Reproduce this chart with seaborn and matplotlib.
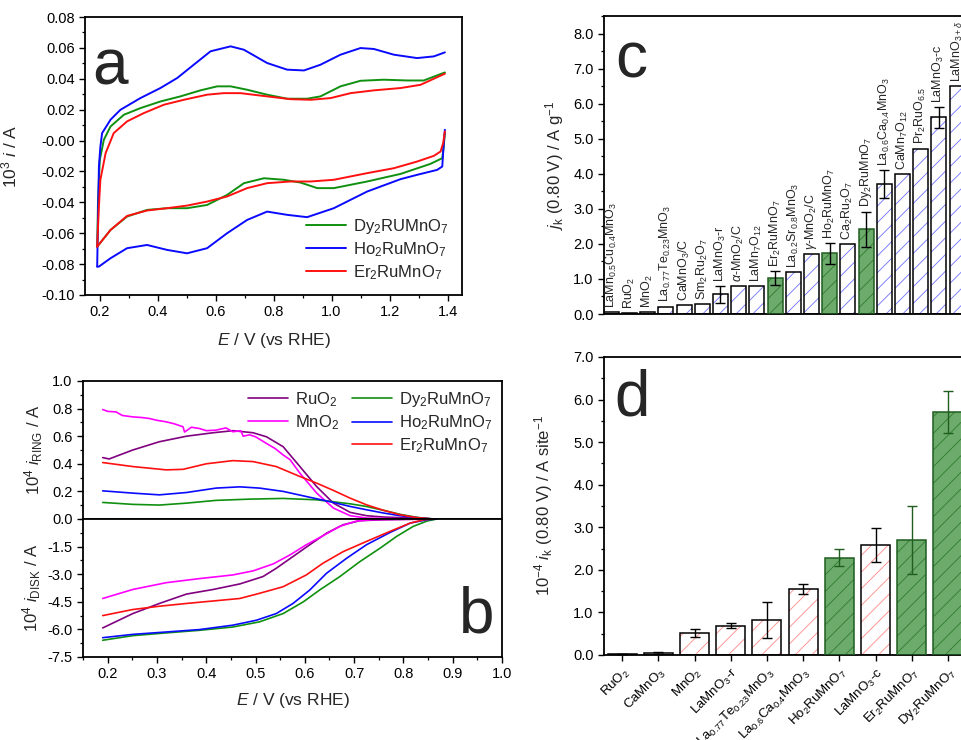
import numpy as np
import pandas as pd
import matplotlib
matplotlib.use("Agg")
import matplotlib.pyplot as plt
from matplotlib.patches import Rectangle
from matplotlib.ticker import MultipleLocator, FormatStrFormatter
import seaborn as sns

# ---------------- panel a: CV curves (E / V, 10^3 i / A) ----------------
ho_up_E = [0.192, 0.198, 0.203, 0.209, 0.238, 0.272, 0.341, 0.410, 0.468, 0.525, 0.583, 0.652, 0.698,
           0.778, 0.847, 0.905, 0.962, 1.031, 1.100, 1.146, 1.215, 1.295, 1.353, 1.391]
ho_up_i = [-0.0816, -0.0168, -0.004, 0.0048, 0.0135, 0.0199, 0.0275, 0.034, 0.0405, 0.0491, 0.0578, 0.061,
           0.0588, 0.0502, 0.0459, 0.0454, 0.0491, 0.0556, 0.0599, 0.0593, 0.0556, 0.0534, 0.0545, 0.0571]
ho_dn_E = [1.391, 1.387, 1.382, 1.364, 1.295, 1.238, 1.123, 1.008, 0.916, 0.847, 0.778, 0.709, 0.640,
           0.571, 0.502, 0.433, 0.364, 0.295, 0.238, 0.198, 0.192]
ho_dn_i = [0.0070, -0.0017, -0.0168, -0.019, -0.0222, -0.025, -0.033, -0.0438, -0.0496, -0.0481, -0.046,
           -0.0514, -0.060, -0.0697, -0.073, -0.0708, -0.0676, -0.0697, -0.0762, -0.0816, -0.0816]

dy_up_E = [0.192, 0.195, 0.201, 0.215, 0.238, 0.284, 0.341, 0.410, 0.479, 0.548, 0.606, 0.652, 0.709,
           0.778, 0.847, 0.916, 0.962, 1.031, 1.100, 1.180, 1.261, 1.318, 1.391]
dy_up_i = [-0.0687, -0.0384, -0.0125, 0.0005, 0.0091, 0.0167, 0.021, 0.0253, 0.0286, 0.0325, 0.0351,
           0.0351, 0.0329, 0.0297, 0.0271, 0.0271, 0.0286, 0.0351, 0.0387, 0.0394, 0.0389, 0.0389, 0.0441]
dy_dn_E = [1.391, 1.387, 1.382, 1.341, 1.238, 1.123, 1.008, 0.951, 0.893, 0.836, 0.767, 0.698, 0.640,
           0.571, 0.502, 0.433, 0.364, 0.295, 0.238, 0.192]
dy_dn_i = [0.0048, -0.0038, -0.0114, -0.0151, -0.0216, -0.0265, -0.0308, -0.0308, -0.0272, -0.0254,
           -0.0244, -0.0276, -0.0352, -0.0417, -0.0438, -0.0438, -0.0449, -0.0492, -0.0579, -0.0687]

er_up_E = [0.192, 0.198, 0.203, 0.221, 0.249, 0.295, 0.353, 0.422, 0.491, 0.571, 0.629, 0.686, 0.778,
           0.859, 0.928, 0.997, 1.066, 1.146, 1.238, 1.307, 1.391]
er_up_i = [-0.0687, -0.0427, -0.0254, -0.0082, 0.0048, 0.0124, 0.0178, 0.0232, 0.0264, 0.0297, 0.0307,
           0.0307, 0.0286, 0.0268, 0.0264, 0.0275, 0.0307, 0.0325, 0.034, 0.0361, 0.0433]
er_dn_E = [1.391, 1.385, 1.376, 1.353, 1.295, 1.215, 1.123, 1.008, 0.928, 0.859, 0.778, 0.709, 0.640,
           0.571, 0.502, 0.433, 0.364, 0.295, 0.238, 0.192]
er_dn_i = [0.0059, -0.0017, -0.0071, -0.0099, -0.0136, -0.0179, -0.0211, -0.0254, -0.0265, -0.0265,
           -0.0276, -0.0308, -0.0362, -0.0395, -0.0421, -0.0438, -0.0453, -0.0488, -0.0579, -0.0687]

# ---------------- panel b: RRDE ring / disk (10^4 i / A) ----------------
ru_ring_E = [0.19, 0.203, 0.251, 0.305, 0.36, 0.414, 0.454, 0.495, 0.522, 0.556, 0.59, 0.624, 0.658,
             0.692, 0.725, 0.76, 0.793, 0.827, 0.861]
ru_ring = [0.445, 0.435, 0.50, 0.56, 0.60, 0.625, 0.64, 0.625, 0.596, 0.524, 0.38, 0.235, 0.115,
           0.048, 0.024, 0.014, 0.01, 0.005, 0.0]
mn_ring_E = [0.19, 0.20, 0.217, 0.23, 0.251, 0.27, 0.285, 0.30, 0.319, 0.335, 0.353, 0.356, 0.37, 0.386,
             0.40, 0.42, 0.44, 0.454, 0.47, 0.475, 0.488, 0.50, 0.522, 0.54, 0.556, 0.57, 0.59, 0.624,
             0.658, 0.692, 0.725, 0.79, 0.86]
mn_ring = [0.793, 0.78, 0.776, 0.75, 0.74, 0.735, 0.728, 0.715, 0.704, 0.69, 0.668, 0.63, 0.665, 0.656,
           0.64, 0.644, 0.66, 0.632, 0.64, 0.60, 0.61, 0.596, 0.548, 0.51, 0.464, 0.43, 0.332, 0.188,
           0.079, 0.024, 0.007, 0.002, 0.0]
er_ring_E = [0.19, 0.251, 0.319, 0.353, 0.40, 0.454, 0.495, 0.542, 0.59, 0.624, 0.658, 0.692, 0.725,
             0.76, 0.793, 0.827, 0.861]
er_ring = [0.409, 0.38, 0.356, 0.36, 0.40, 0.423, 0.416, 0.38, 0.308, 0.26, 0.207, 0.151, 0.103,
           0.0625, 0.031, 0.01, 0.0]
ho_ring_E = [0.19, 0.251, 0.305, 0.36, 0.42, 0.468, 0.508, 0.556, 0.603, 0.658, 0.692, 0.725, 0.76,
             0.793, 0.827, 0.861]
ho_ring = [0.204, 0.1875, 0.175, 0.192, 0.224, 0.233, 0.224, 0.20, 0.163, 0.12, 0.091, 0.067, 0.043,
           0.024, 0.01, 0.0]
dy_ring_E = [0.19, 0.251, 0.305, 0.36, 0.42, 0.488, 0.556, 0.624, 0.692, 0.725, 0.76, 0.793, 0.827, 0.861]
dy_ring = [0.12, 0.106, 0.101, 0.115, 0.135, 0.144, 0.149, 0.139, 0.11, 0.091, 0.0625, 0.034, 0.012, 0.0]

mn_disk_E = [0.19, 0.251, 0.319, 0.386, 0.454, 0.495, 0.536, 0.57, 0.603, 0.637, 0.671, 0.705, 0.739,
             0.793, 0.86]
mn_disk = [-4.32, -3.83, -3.46, -3.24, -3.04, -2.82, -2.44, -1.95, -1.40, -0.91, -0.40, -0.11, -0.04,
           -0.02, 0.0]
ru_disk_E = [0.19, 0.251, 0.305, 0.36, 0.414, 0.468, 0.515, 0.542, 0.576, 0.61, 0.644, 0.678, 0.712,
             0.76, 0.86]
ru_disk = [-5.92, -5.14, -4.59, -4.08, -3.83, -3.53, -3.13, -2.68, -2.04, -1.40, -0.77, -0.31, -0.09,
           -0.04, 0.0]
er_disk_E = [0.19, 0.251, 0.305, 0.36, 0.42, 0.468, 0.508, 0.556, 0.603, 0.637, 0.678, 0.725, 0.773,
             0.814, 0.841, 0.861]
er_disk = [-5.25, -4.92, -4.74, -4.59, -4.44, -4.32, -4.04, -3.68, -3.04, -2.40, -1.77, -1.22, -0.67,
           -0.22, -0.04, 0.0]
ho_disk_E = [0.19, 0.251, 0.319, 0.386, 0.454, 0.502, 0.542, 0.576, 0.61, 0.644, 0.685, 0.725, 0.773,
             0.814, 0.848, 0.868]
ho_disk = [-6.45, -6.27, -6.14, -6.01, -5.77, -5.50, -5.14, -4.59, -3.86, -2.95, -2.13, -1.40, -0.73,
           -0.22, -0.04, 0.0]
dy_disk_E = [0.19, 0.251, 0.319, 0.386, 0.454, 0.508, 0.556, 0.597, 0.63, 0.671, 0.712, 0.753, 0.786,
             0.82, 0.848, 0.868]
dy_disk = [-6.59, -6.34, -6.19, -6.05, -5.87, -5.59, -5.14, -4.50, -3.86, -3.13, -2.31, -1.58, -0.95,
           -0.40, -0.11, 0.0]

# ---------------- panel c: mass activity ----------------
c_names = [r"LaMn$_{0.5}$Cu$_{0.4}$MnO$_3$", r"RuO$_2$", r"MnO$_2$", r"La$_{0.77}$Te$_{0.23}$MnO$_3$",
           r"CaMnO$_3$/C", r"Sm$_2$Ru$_2$O$_7$", r"LaMnO$_3$-r", r"$\alpha$-MnO$_2$/C", r"LaMn$_7$O$_{12}$",
           r"Er$_2$RuMnO$_7$", r"La$_{0.2}$Sr$_{0.8}$MnO$_3$", r"$\gamma$-MnO$_2$/C", r"Ho$_2$RuMnO$_7$",
           r"Ca$_2$Ru$_2$O$_7$", r"Dy$_2$RuMnO$_7$", r"La$_{0.6}$Ca$_{0.4}$MnO$_3$", r"CaMn$_7$O$_{12}$",
           r"Pr$_2$RuO$_{6.5}$", r"LaMnO$_3$-c", r"LaMnO$_{3+\delta}$"]
c_vals = [0.05, 0.03, 0.05, 0.21, 0.26, 0.29, 0.56, 0.80, 0.80, 1.02, 1.19, 1.70, 1.73, 2.00, 2.42,
          3.70, 4.00, 4.72, 5.61, 6.50]
c_err = [0, 0, 0, 0, 0, 0, 0.24, 0, 0, 0.20, 0, 0, 0.30, 0, 0.50, 0.40, 0, 0, 0.30, 0]
c_ours = [False] * 9 + [True] + [False] * 2 + [True] + [False] + [True] + [False] * 5

# ---------------- panel d: specific activity ----------------
d_names = [r"RuO$_2$", r"CaMnO$_3$", r"MnO$_2$", r"LaMnO$_3$-r", r"La$_{0.77}$Te$_{0.23}$MnO$_3$",
           r"La$_{0.6}$Ca$_{0.4}$MnO$_3$", r"Ho$_2$RuMnO$_7$", r"LaMnO$_3$-c", r"Er$_2$RuMnO$_7$",
           r"Dy$_2$RuMnO$_7$"]
d_vals = [0.03, 0.05, 0.52, 0.69, 0.83, 1.55, 2.29, 2.59, 2.70, 5.71]
d_err = [0, 0.02, 0.10, 0.05, 0.42, 0.12, 0.20, 0.40, 0.80, 0.50]
d_ours = [False] * 6 + [True, False, True, True]

GREEN = "#62b562"
GREEN_H = "#2e7a2e"
GREEN_E = "#1f5e1f"

sns.set_style("ticks")
plt.rcParams["font.family"] = ["Liberation Sans", "DejaVu Sans"]
plt.rcParams["mathtext.fontset"] = "custom"
plt.rcParams["mathtext.rm"] = "Liberation Sans"
plt.rcParams["mathtext.it"] = "Liberation Sans:italic"
plt.rcParams["mathtext.bf"] = "Liberation Sans:bold"
plt.rcParams["axes.linewidth"] = 1.3
plt.rcParams["hatch.linewidth"] = 0.6
plt.rcParams["xtick.labelsize"] = 10.5
plt.rcParams["ytick.labelsize"] = 10.5
plt.rcParams["axes.edgecolor"] = "black"

W, H = 961, 740
fig = plt.figure(figsize=(W / 100, H / 100), dpi=100)


def box(l, t, r, b):
    return [l / W, (H - b) / H, (r - l) / W, (b - t) / H]


def style_ticks(ax):
    ax.tick_params(which="both", direction="out", color="black", labelcolor="black")
    ax.tick_params(which="major", length=4, width=1.0)
    ax.tick_params(which="minor", length=2.2, width=0.9)


# ---------- a ----------
ax_a = fig.add_axes(box(85, 17, 462, 295))
for E_u, i_u, E_d, i_d, col, lab in [
        (dy_up_E, dy_up_i, dy_dn_E, dy_dn_i, "#109010", r"Dy$_2$RUMnO$_7$"),
        (ho_up_E, ho_up_i, ho_dn_E, ho_dn_i, "#0a0aff", r"Ho$_2$RuMnO$_7$"),
        (er_up_E, er_up_i, er_dn_E, er_dn_i, "#ff1010", r"Er$_2$RuMnO$_7$")]:
    sns.lineplot(x=E_u, y=i_u, sort=False, estimator=None, color=col, lw=1.4, ax=ax_a, label=lab)
    sns.lineplot(x=E_d, y=i_d, sort=False, estimator=None, color=col, lw=1.4, ax=ax_a)
ax_a.set_xlim(0.15, 1.45)
ax_a.set_ylim(-0.10, 0.08)
ax_a.xaxis.set_major_locator(MultipleLocator(0.2))
ax_a.xaxis.set_minor_locator(MultipleLocator(0.1))
ax_a.yaxis.set_major_locator(MultipleLocator(0.02))
ax_a.yaxis.set_minor_locator(MultipleLocator(0.01))
ax_a.xaxis.set_major_formatter(FormatStrFormatter("%.1f"))
ax_a.yaxis.set_major_formatter(FormatStrFormatter("%.2f"))
style_ticks(ax_a)
ax_a.set_xlabel(r"$E$ / V (vs RHE)", fontsize=12.5)
ax_a.set_ylabel(r"10$^3$ $i$ / A", fontsize=12.5)
ax_a.xaxis.set_label_coords(0.5, -0.13)
ax_a.yaxis.set_label_coords(-0.175, 0.5)
ax_a.legend(loc="lower right", frameon=False, fontsize=12, handlelength=2.4,
            handletextpad=0.4, labelspacing=0.25, borderaxespad=0.4)
ax_a.text(0.018, 0.82, "a", transform=ax_a.transAxes, fontsize=46, va="center", ha="left")

# ---------- b ----------
ax_r = fig.add_axes(box(83, 381, 502, 519))
ax_d = fig.add_axes(box(83, 519, 502, 657))
ring_sets = [(ru_ring_E, ru_ring, "#800080", r"RuO$_2$"),
             (mn_ring_E, mn_ring, "#ff00ff", r"MnO$_2$"),
             (dy_ring_E, dy_ring, "#109010", r"Dy$_2$RuMnO$_7$"),
             (ho_ring_E, ho_ring, "#0a0aff", r"Ho$_2$RuMnO$_7$"),
             (er_ring_E, er_ring, "#ff1010", r"Er$_2$RuMnO$_7$")]
disk_sets = [(ru_disk_E, ru_disk, "#800080"), (mn_disk_E, mn_disk, "#ff00ff"),
             (dy_disk_E, dy_disk, "#109010"), (ho_disk_E, ho_disk, "#0a0aff"),
             (er_disk_E, er_disk, "#ff1010")]
handles = {}
for E, v, col, lab in ring_sets:
    sns.lineplot(x=E, y=v, sort=False, estimator=None, color=col, lw=1.2, ax=ax_r)
    handles[lab] = ax_r.lines[-1]
for E, v, col in disk_sets:
    sns.lineplot(x=E, y=v, sort=False, estimator=None, color=col, lw=1.2, ax=ax_d)
for ax in (ax_r, ax_d):
    ax.set_xlim(0.15, 1.0)
    ax.xaxis.set_major_locator(MultipleLocator(0.1))
    ax.xaxis.set_minor_locator(MultipleLocator(0.05))
    ax.xaxis.set_major_formatter(FormatStrFormatter("%.1f"))
    style_ticks(ax)
ax_r.set_ylim(0, 1.0)
ax_r.yaxis.set_major_locator(MultipleLocator(0.2))
ax_r.yaxis.set_minor_locator(MultipleLocator(0.1))
ax_r.yaxis.set_major_formatter(FormatStrFormatter("%.1f"))
ax_r.tick_params(axis="x", which="both", bottom=False, labelbottom=False)
ax_d.set_ylim(-7.5, 0)
ax_d.set_yticks([-1.5, -3.0, -4.5, -6.0, -7.5])
ax_d.yaxis.set_minor_locator(MultipleLocator(0.75))
ax_d.yaxis.set_major_formatter(FormatStrFormatter("%.1f"))
ax_r.set_ylabel(r"10$^4$ $i_\mathrm{RING}$ / A", fontsize=12)
ax_d.set_ylabel(r"10$^4$ $i_\mathrm{DISK}$ / A", fontsize=12)
ax_r.yaxis.set_label_coords(-0.09, 0.5)
ax_d.yaxis.set_label_coords(-0.095, 0.5)
ax_d.set_xlabel(r"$E$ / V (vs RHE)", fontsize=12.5)
ax_d.xaxis.set_label_coords(0.5, -0.25)
blank = plt.Line2D([], [], color="none")
order = [r"RuO$_2$", r"MnO$_2$", None, r"Dy$_2$RuMnO$_7$", r"Ho$_2$RuMnO$_7$", r"Er$_2$RuMnO$_7$"]
ax_r.legend([handles[k] if k else blank for k in order], [k if k else "" for k in order],
            ncol=2, loc="upper right", frameon=False, fontsize=12, handlelength=2.4,
            handletextpad=0.4, labelspacing=0.25, columnspacing=0.8, borderaxespad=0.15)
ax_d.text(0.94, 0.3, "b", transform=ax_d.transAxes, fontsize=46, va="center", ha="center")


# ---------- bars helper ----------
def hatched_bars(ax, names, vals, ours, hatch_col, width):
    face = [GREEN if o else "white" for o in ours]
    df = pd.DataFrame({"name": names, "val": vals})
    sns.barplot(data=df, x="name", y="val", hue="name", palette=face, legend=False,
                width=width, linewidth=0, ax=ax, order=names, hue_order=names)
    bars = list(ax.patches)
    for p, o in zip(bars, ours):
        p.set_edgecolor(GREEN_H if o else hatch_col)
        p.set_hatch("//")
        ax.add_patch(Rectangle(p.get_xy(), p.get_width(), p.get_height(), fill=False,
                               edgecolor=GREEN_E if o else "black", lw=1.1, zorder=3))
    return bars


# ---------- c ----------
ax_c = fig.add_axes(box(604, 16, 604 + 20 * 18.2, 314))
hatched_bars(ax_c, c_names, c_vals, c_ours, "#6f6fff", 0.82)
xs = np.arange(len(c_names))
for x, v, e, o in zip(xs, c_vals, c_err, c_ours):
    if e > 0:
        ax_c.errorbar(x, v, yerr=e, fmt="none", ecolor="black", elinewidth=1.0, capsize=3.5,
                      capthick=1.0, zorder=4)
    ax_c.annotate(c_names[x], (x, v + e), xytext=(0, 3), textcoords="offset points",
                  rotation=90, ha="center", va="bottom", fontsize=9)
ax_c.set_xlim(-0.4, 19.6)
ax_c.set_ylim(0, 8.5)
ax_c.set_xticks([])
ax_c.set_xlabel("")
ax_c.yaxis.set_major_locator(MultipleLocator(1.0))
ax_c.yaxis.set_minor_locator(MultipleLocator(0.5))
ax_c.yaxis.set_major_formatter(FormatStrFormatter("%.1f"))
style_ticks(ax_c)
ax_c.set_ylabel(r"$j_\mathrm{k}$ (0.80 V) / A g$^{-1}$", fontsize=12)
ax_c.yaxis.set_label_coords(-0.105, 0.5)
ax_c.text(0.03, 0.85, "c", transform=ax_c.transAxes, fontsize=46, va="center", ha="left")

# ---------- d ----------
ax_dd = fig.add_axes(box(604, 357, 604 + 10 * 36.2, 655))
hatched_bars(ax_dd, d_names, d_vals, d_ours, "#ff8a8a", 0.8)
for x, (v, e, o) in enumerate(zip(d_vals, d_err, d_ours)):
    ax_dd.errorbar(x, v, yerr=e, fmt="none", ecolor=GREEN_E if o else "black", elinewidth=1.0,
                   capsize=3.5, capthick=1.0, zorder=4)
ax_dd.set_xlim(-0.5, 9.5)
ax_dd.set_ylim(0, 7.0)
ax_dd.set_xlabel("")
ax_dd.set_xticks(range(len(d_names)))
ax_dd.set_xticklabels(d_names, rotation=45, ha="right", rotation_mode="anchor", fontsize=9.5)
ax_dd.yaxis.set_major_locator(MultipleLocator(1.0))
ax_dd.yaxis.set_minor_locator(MultipleLocator(0.5))
ax_dd.yaxis.set_major_formatter(FormatStrFormatter("%.1f"))
style_ticks(ax_dd)
ax_dd.set_ylabel(r"10$^{-4}$ $i_\mathrm{k}$ (0.80 V) / A site$^{-1}$", fontsize=12)
ax_dd.yaxis.set_label_coords(-0.135, 0.5)
ax_dd.text(0.03, 0.86, "d", transform=ax_dd.transAxes, fontsize=46, va="center", ha="left")

fig.savefig("out.png", dpi=100)
